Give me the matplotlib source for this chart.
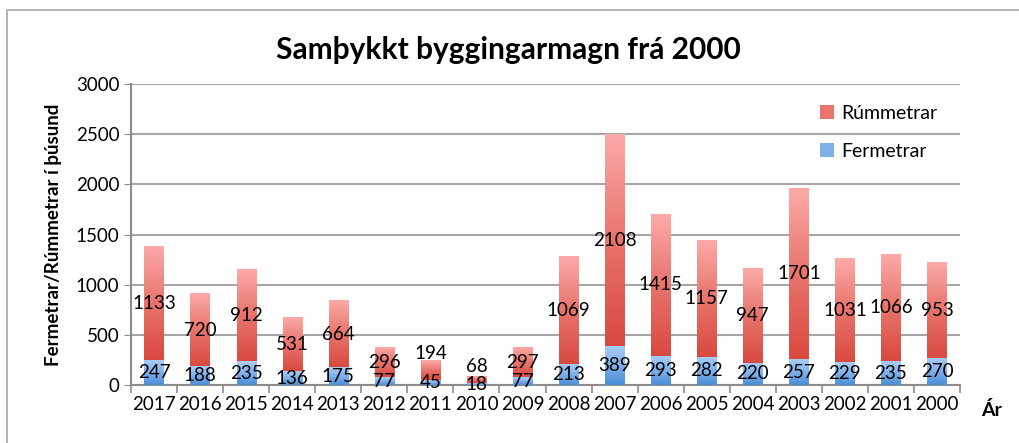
"""
Stacked bar chart: approved building volume since 2000
"""
import numpy as np
import matplotlib.pyplot as plt
from matplotlib.colors import LinearSegmentedColormap
from matplotlib.patches import Rectangle

years = ["2017", "2016", "2015", "2014", "2013", "2012", "2011", "2010", "2009",
         "2008", "2007", "2006", "2005", "2004", "2003", "2002", "2001", "2000"]
fermetrar = [247, 188, 235, 136, 175, 77, 45, 18, 77,
             213, 389, 293, 282, 220, 257, 229, 235, 270]
rummetrar = [1133, 720, 912, 531, 664, 296, 194, 68, 297,
             1069, 2108, 1415, 1157, 947, 1701, 1031, 1066, 953]

plt.rcParams["font.family"] = ["Lato", "DejaVu Sans"]

red_cmap = LinearSegmentedColormap.from_list("red", ["#d9493f", "#e8746c", "#fcaaa8"])
blue_cmap = LinearSegmentedColormap.from_list("blue", ["#4a8dd6", "#7fb0ea", "#a9cdf6"])
grad = np.linspace(0, 1, 256).reshape(-1, 1)

fig = plt.figure(figsize=(10.19, 4.43), dpi=100)
ax = fig.add_axes([0.1286, 0.131, 0.8135, 0.679])

# outer chart border (left and top only visible)
fig.patches.append(Rectangle((7 / 1019, -0.1), 1.2, (443 - 10) / 443 + 0.1,
                             transform=fig.transFigure, fill=False,
                             edgecolor="#a6a6a6", linewidth=1.2))

width = 0.42
x = np.arange(len(years))
for i, (f, r) in enumerate(zip(fermetrar, rummetrar)):
    ax.imshow(grad, cmap=blue_cmap, origin="lower", aspect="auto",
              extent=(i - width / 2, i + width / 2, 0, f), zorder=3)
    ax.imshow(grad, cmap=red_cmap, origin="lower", aspect="auto",
              extent=(i - width / 2, i + width / 2, f, f + r), zorder=3)
    red_y = f + r / 2
    if r / 2 + f / 2 < 150:
        # labels would collide, lift the top one above the bar
        red_y = max(f + r + 70, f / 2 + 175)
    ax.text(i, f / 2, str(f), ha="center", va="center", fontsize=13.5, zorder=5)
    ax.text(i, red_y, str(r), ha="center", va="center", fontsize=13.5, zorder=5)

ax.set_xlim(-0.5, len(years) - 0.5)
ax.set_ylim(0, 3000)
ax.set_yticks(range(0, 3001, 500))
ax.tick_params(axis="y", labelsize=13.5, length=5, color="#8c8c8c")
ax.set_xticks(x)
ax.set_xticklabels(years, fontsize=13.5)
ax.tick_params(axis="x", length=0, pad=8)
ax.set_xticks(np.arange(-0.5, len(years), 1), minor=True)
ax.tick_params(axis="x", which="minor", length=6, color="#8c8c8c", width=1.2)

ax.grid(axis="y", color="#a6a6a6", linewidth=1.5, zorder=0)
ax.set_axisbelow(True)
for side in ["top", "right"]:
    ax.spines[side].set_visible(False)
for side in ["left", "bottom"]:
    ax.spines[side].set_color("#8c8c8c")
    ax.spines[side].set_linewidth(1.5)

ax.set_ylabel("Fermetrar/Rúmmetrar í þúsund", fontsize=13.5, fontweight="bold", labelpad=10)
fig.text(992 / 1019, 1 - 410 / 443, "Ár", fontsize=14, fontweight="bold",
         ha="center", va="center")
fig.text(508 / 1019, 1 - 50 / 443, "Samþykkt byggingarmagn frá 2000",
         fontsize=21.5, fontweight="bold", ha="center", va="center")

handles = [Rectangle((0, 0), 1, 1, facecolor="#e8746c"),
           Rectangle((0, 0), 1, 1, facecolor="#7fb0ea")]
ax.legend(handles, ["Rúmmetrar", "Fermetrar"], loc="upper left",
          bbox_to_anchor=(0.81, 0.99), frameon=False, fontsize=14,
          handlelength=0.7, handleheight=0.7, labelspacing=1.1,
          handletextpad=0.4)

fig.savefig("out.png", dpi=100)
plt.close(fig)
